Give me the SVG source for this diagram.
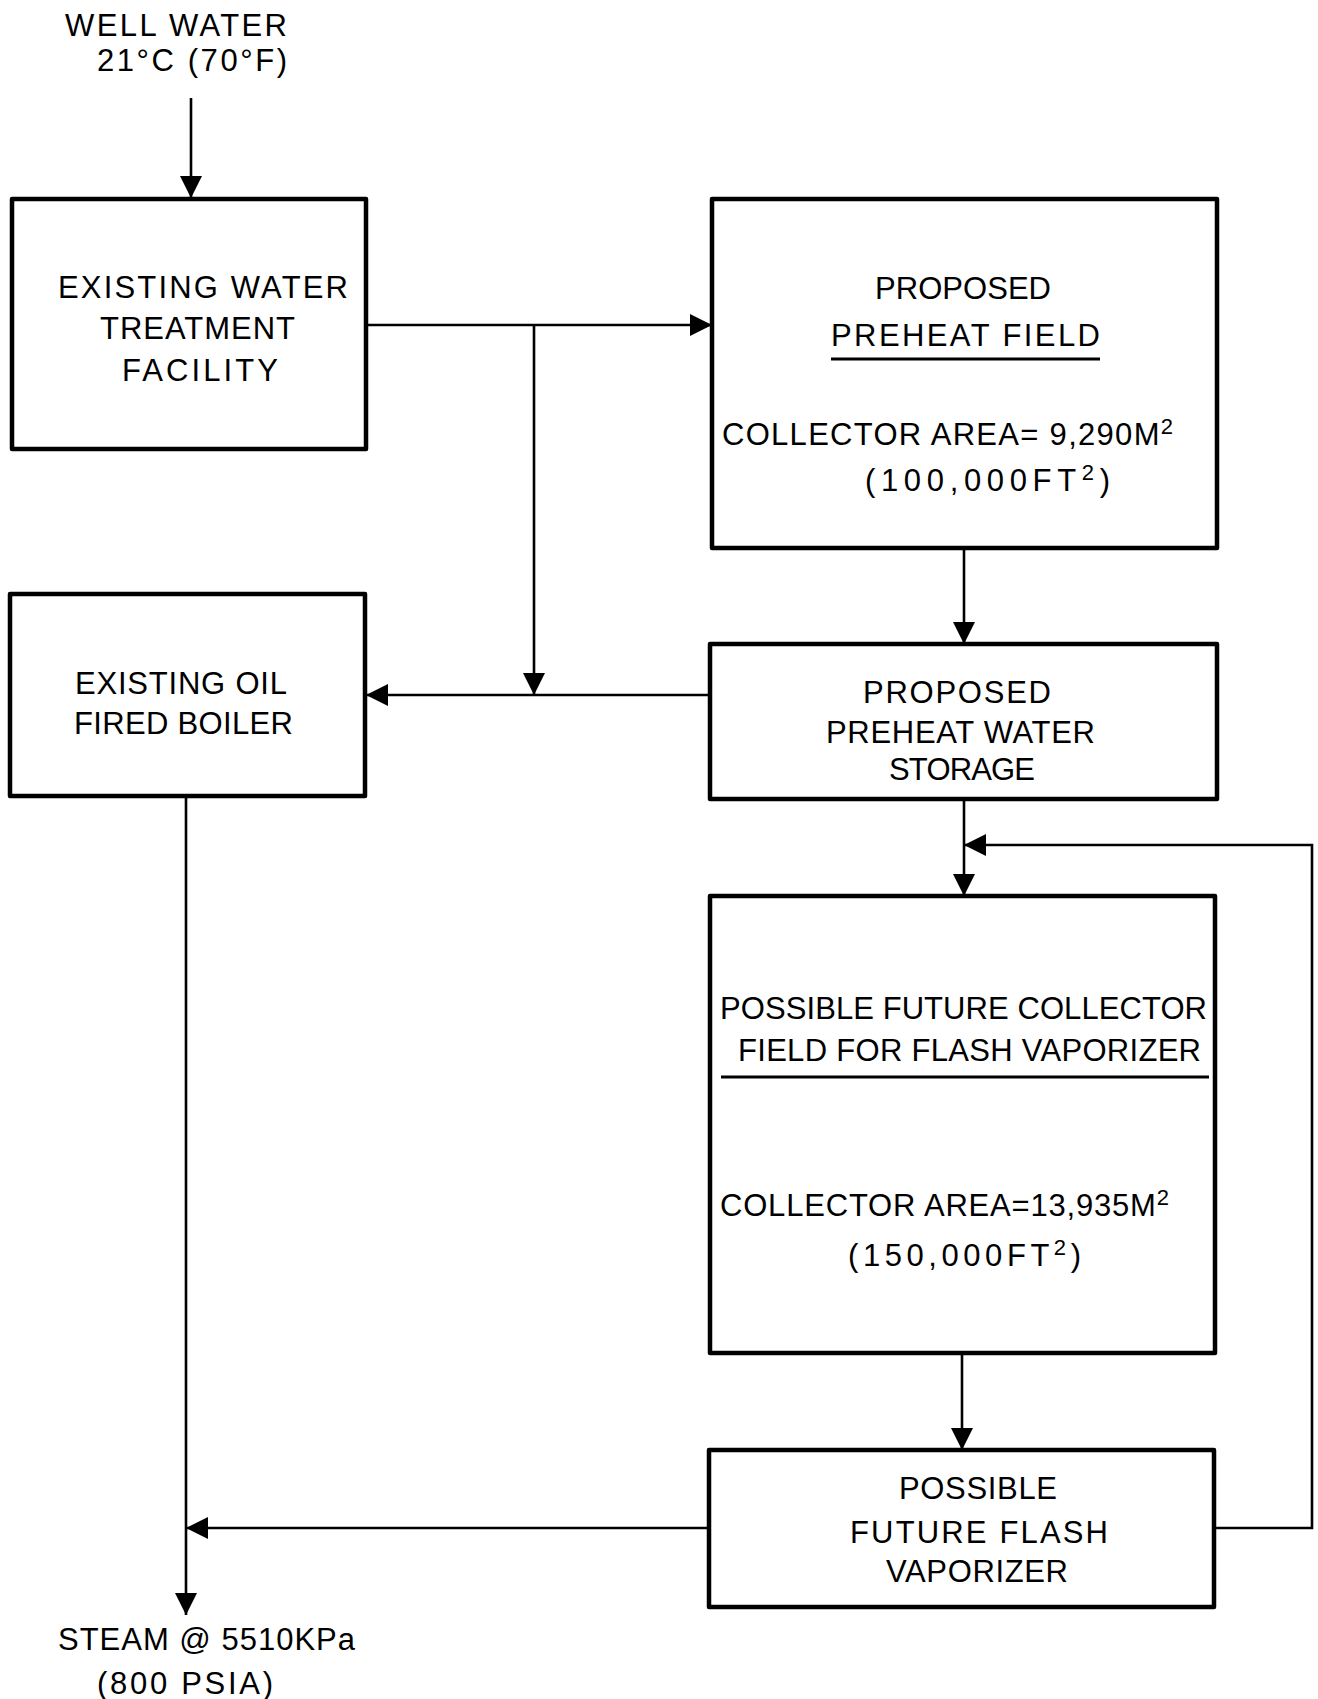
<svg xmlns="http://www.w3.org/2000/svg" width="1318" height="1699" viewBox="0 0 1318 1699">
<style>
.box{fill:#fff;stroke:#000;stroke-width:4.5;stroke-linejoin:round}
.t{font-family:"Liberation Sans",Arial,sans-serif;font-size:31px;fill:#000}
.sup{font-size:22px}
.c{fill:none;stroke:#000;stroke-width:2.6}
.u{stroke:#000;stroke-width:3}
</style>
<defs>
<marker id="ah" markerWidth="22" markerHeight="22" refX="22" refY="11" orient="auto" markerUnits="userSpaceOnUse">
<path d="M0,0 L22,11 L0,22 Z" fill="#000"/>
</marker>
</defs>
<rect width="1318" height="1699" fill="#fff"/>

<g id="connectors">
<path class="c" d="M191,98 V198" marker-end="url(#ah)"/>
<path class="c" d="M366,325 H712" marker-end="url(#ah)"/>
<path class="c" d="M534,325 V695" marker-end="url(#ah)"/>
<path class="c" d="M710,695 H366" marker-end="url(#ah)"/>
<path class="c" d="M964,548 V644" marker-end="url(#ah)"/>
<path class="c" d="M964,799 V896" marker-end="url(#ah)"/>
<path class="c" d="M962,1353 V1450" marker-end="url(#ah)"/>
<path class="c" d="M709,1528 H186" marker-end="url(#ah)"/>
<path class="c" d="M186,797 V1615" marker-end="url(#ah)"/>
<path class="c" d="M1214,1528 H1312 V845 H964" marker-end="url(#ah)"/>
</g>

<g id="well-water">
<text class="t" x="65" y="36" textLength="222" lengthAdjust="spacing">WELL WATER</text>
<text class="t" x="97" y="71" textLength="190" lengthAdjust="spacing">21°C (70°F)</text>
</g>

<g id="water-treatment">
<rect class="box" x="12" y="199" width="354" height="250"/>
<text class="t" x="58" y="298" textLength="290" lengthAdjust="spacing">EXISTING WATER</text>
<text class="t" x="100" y="339" textLength="195" lengthAdjust="spacing">TREATMENT</text>
<text class="t" x="122" y="381" textLength="156" lengthAdjust="spacing">FACILITY</text>
</g>

<g id="preheat-field">
<rect class="box" x="712" y="199" width="505" height="349"/>
<text class="t" x="875" y="299" textLength="176" lengthAdjust="spacing">PROPOSED</text>
<text class="t" x="831" y="346" textLength="269" lengthAdjust="spacing">PREHEAT FIELD</text>
<line class="u" x1="831" y1="359" x2="1100" y2="359"/>
<text class="t" x="722" y="445" textLength="451" lengthAdjust="spacing">COLLECTOR AREA= 9,290M<tspan class="sup" dy="-11">2</tspan></text>
<text class="t" x="865" y="491" textLength="245" lengthAdjust="spacing">(100,000FT<tspan class="sup" dy="-11">2</tspan><tspan dy="11">)</tspan></text>
</g>

<g id="oil-boiler">
<rect class="box" x="10" y="594" width="355" height="202"/>
<text class="t" x="75" y="694" textLength="212" lengthAdjust="spacing">EXISTING OIL</text>
<text class="t" x="74" y="734" textLength="219" lengthAdjust="spacing">FIRED BOILER</text>
</g>

<g id="preheat-storage">
<rect class="box" x="710" y="644" width="507" height="155"/>
<text class="t" x="863" y="703" textLength="188" lengthAdjust="spacing">PROPOSED</text>
<text class="t" x="826" y="743" textLength="269" lengthAdjust="spacing">PREHEAT WATER</text>
<text class="t" x="889" y="780" textLength="146" lengthAdjust="spacing">STORAGE</text>
</g>

<g id="future-collector-field">
<rect class="box" x="710" y="896" width="505" height="457"/>
<text class="t" x="720" y="1019" textLength="487" lengthAdjust="spacing">POSSIBLE FUTURE COLLECTOR</text>
<text class="t" x="738" y="1061" textLength="463" lengthAdjust="spacing">FIELD FOR FLASH VAPORIZER</text>
<line class="u" x1="721" y1="1077" x2="1209" y2="1077"/>
<text class="t" x="720" y="1216" textLength="449" lengthAdjust="spacing">COLLECTOR AREA=13,935M<tspan class="sup" dy="-11">2</tspan></text>
<text class="t" x="848" y="1266" textLength="233" lengthAdjust="spacing">(150,000FT<tspan class="sup" dy="-11">2</tspan><tspan dy="11">)</tspan></text>
</g>

<g id="flash-vaporizer">
<rect class="box" x="709" y="1450" width="505" height="157"/>
<text class="t" x="899" y="1499" textLength="158" lengthAdjust="spacing">POSSIBLE</text>
<text class="t" x="850" y="1543" textLength="258" lengthAdjust="spacing">FUTURE FLASH</text>
<text class="t" x="886" y="1582" textLength="182" lengthAdjust="spacing">VAPORIZER</text>
</g>

<g id="steam">
<text class="t" x="58" y="1650" textLength="297" lengthAdjust="spacing">STEAM @ 5510KPa</text>
<text class="t" x="97" y="1694" textLength="176" lengthAdjust="spacing">(800 PSIA)</text>
</g>
</svg>
